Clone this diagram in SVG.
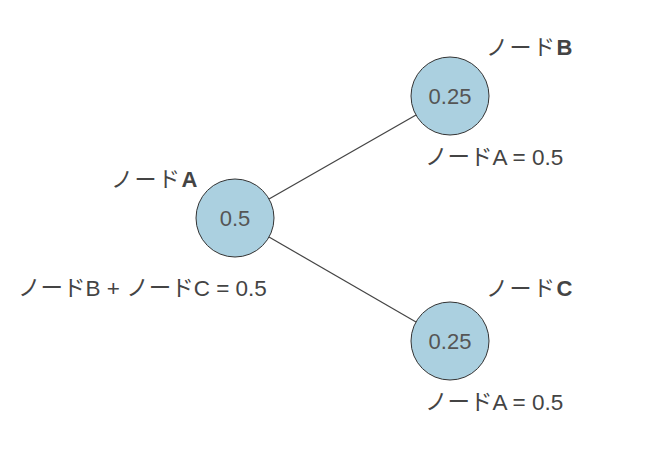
<svg xmlns="http://www.w3.org/2000/svg" width="658" height="459" viewBox="0 0 658 459">
<style>
.node{fill:#abd0e0;stroke:#333;stroke-width:1}
.val{font-family:"Liberation Sans","Noto Sans CJK JP",sans-serif;font-size:22px;fill:#555;text-anchor:middle}
.title{font-family:"Liberation Sans","Noto Sans CJK JP",sans-serif;font-size:22px;letter-spacing:1.5px;fill:#444}
.title tspan{font-weight:bold}
.sub{font-family:"Liberation Sans","Noto Sans CJK JP",sans-serif;font-size:22.5px;fill:#444}
.edge{stroke:#444;stroke-width:1.2;fill:none}
</style>
<rect width="658" height="459" fill="#fff"/>
<g id="connectors">
<line class="edge" x1="269" y1="199" x2="416" y2="115"/>
<line class="edge" x1="269" y1="237" x2="416" y2="322"/>
</g>
<g id="nodeA">
<circle class="node" cx="235" cy="218" r="39"/>
<text class="val" x="235" y="226">0.5</text>
<text class="title" x="111" y="187">ノード<tspan>A</tspan></text>
<text class="sub" x="18" y="296">ノードB + ノードC = 0.5</text>
</g>
<g id="nodeB">
<circle class="node" cx="450" cy="96" r="39"/>
<text class="val" x="450" y="104">0.25</text>
<text class="title" x="486" y="55">ノード<tspan>B</tspan></text>
<text class="sub" x="425" y="165">ノードA = 0.5</text>
</g>
<g id="nodeC">
<circle class="node" cx="450" cy="341" r="39"/>
<text class="val" x="450" y="349">0.25</text>
<text class="title" x="486" y="296">ノード<tspan>C</tspan></text>
<text class="sub" x="425" y="410">ノードA = 0.5</text>
</g>
</svg>
